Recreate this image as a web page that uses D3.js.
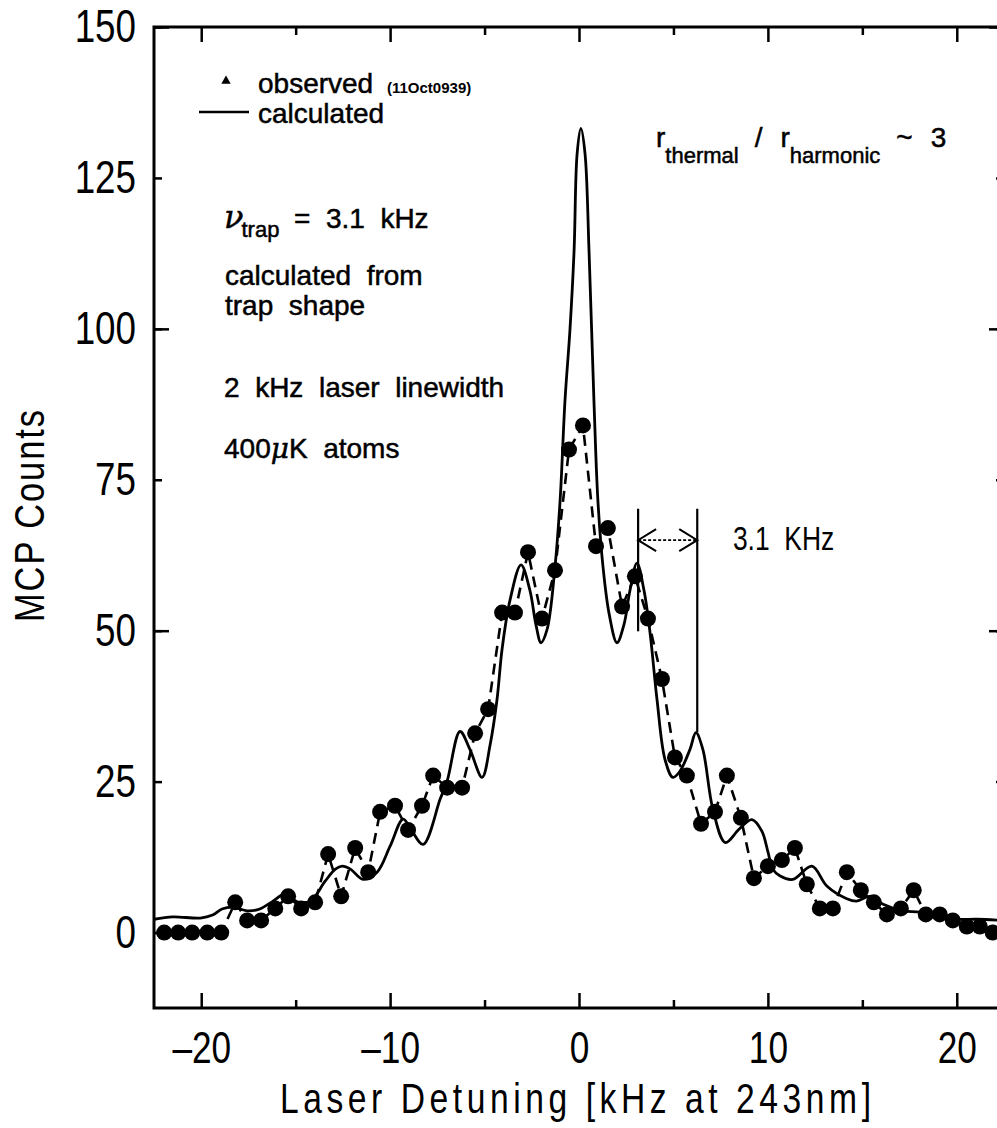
<!DOCTYPE html>
<html>
<head>
<meta charset="utf-8">
<script src="https://cdn.jsdelivr.net/npm/d3@7"></script>
<style>
  body { margin: 0; background: #fff; }
  svg { display: block; }
</style>
</head>
<body>
<div id="chart"></div>
<script>
// observed MCP counts (dots + dashed line)
const obsX = [-21.96, -21.22, -20.48, -19.68, -18.94, -18.2, -17.57, -16.83, -16.08, -15.4,
  -14.71, -13.97, -13.28, -12.59, -11.85, -11.16, -10.53, -9.74, -9.05, -8.31,
  -7.72, -6.98, -6.19, -5.5, -4.81, -4.07, -3.39, -2.7, -1.96, -1.27,
  -0.53, 0.21, 0.9, 1.53, 2.28, 2.96, 3.65, 4.39, 5.08, 5.71,
  6.46, 7.2, 7.83, 8.57, 9.26, 10.0, 10.74, 11.43, 12.06, 12.75,
  13.44, 14.18, 14.92, 15.61, 16.3, 17.04, 17.72, 18.36, 19.1, 19.79,
  20.53, 21.22, 21.9]
const obsY = [0, 0, 0, 0, 0, 5, 2, 2, 4, 6,
  4, 5, 13, 6, 14, 10, 20, 21, 17, 21,
  26, 24, 24, 33, 37, 53, 53, 63, 52, 60,
  80, 84, 64, 67, 54, 59, 52, 42, 29, 26,
  18, 20, 26, 19, 9, 11, 12, 14, 8, 4,
  4, 10, 7, 5, 3, 4, 7, 3, 3, 2,
  1, 1, 0]

// calculated line shape
const calcX = [-22.5, -21.5, -20.05, -19.4, -18.9, -18.3, -17.57, -16.9, -16.2, -15.56,
  -14.92, -14.23, -13.44, -12.9, -12.54, -12.1, -11.43, -10.69, -10.0, -9.31,
  -8.86, -8.25, -7.35, -6.98, -6.3, -5.77, -5.13, -4.7, -4.34, -4.07,
  -3.65, -3.07, -2.6, -2.28, -2.01, -1.69, -1.27, -1.0, -0.74, -0.48,
  -0.26, -0.1, 0.1, 0.32, 0.53, 0.79, 1.0, 1.27, 1.6, 2.01,
  2.38, 2.7, 3.07, 3.44, 3.76, 4.13, 4.55, 4.97, 5.34, 5.87,
  6.19, 6.56, 7.09, 7.75, 8.47, 9.15, 9.68, 10.0, 10.26, 10.63,
  11.32, 12.33, 13.12, 14.18, 14.7, 15.4, 16.1, 17.14, 18.04, 18.94,
  20.0, 21.06, 22.5]
const calcY = [2.2, 2.6, 2.4, 2.9, 3.9, 4.2, 3.6, 3.9, 5.2, 6.4,
  5.1, 5.2, 8.5, 10.5, 11.0, 10.5, 8.8, 10.0, 14.3, 18.8,
  16.9, 14.6, 22.1, 25.1, 33.3, 30.3, 25.7, 31.2, 38.6, 47,
  55.1, 60.9, 56.7, 51, 48, 50.2, 60.6, 71.6, 88.2, 99.8,
  113, 129, 133.2, 129, 113, 88.2, 71.6, 60.6, 52.7, 48,
  51, 56.7, 61.2, 56.7, 49.7, 38.6, 28.7, 25.7, 26.7, 30.3,
  33.1, 30.3, 20.4, 14.9, 17.1, 18.7, 16.8, 13.4, 10.5, 9.4,
  8.8, 11.0, 7.7, 5.6, 5.2, 6.0, 4.7, 3.6, 3.4, 2.8,
  2.2, 2.2, 2.0]

const xMajor = [-20, -10, 0, 10, 20]
const xMinor = [-15, -5, 5, 15]
const yLabels = [0, 25, 50, 75, 100, 125, 150]
const yMajor = [0, 50, 100, 150]

// trap spacing marker (kHz) and its heights
const markX = [3.13, 6.26]
const markTop = 70.2
const markBottom = [49.9, 33.2]
const markArrowY = 65

let width = 997
let height = 1128

// narrow look: Liberation Sans squeezed horizontally
let numFont = '"Liberation Sans", Arial, sans-serif'
let txtFont = '"Liberation Sans", Arial, sans-serif'
let squeeze = 0.8

let x = d3.scaleLinear().domain([-22.5, 22.5]).range([154, 1004])
let y = d3.scaleLinear().domain([-12.5, 150]).range([1008, 27])

let svg = d3.select('#chart')
  .append('svg')
  .attr('width', width)
  .attr('height', height)

svg.append('clipPath')
  .attr('id', 'plot-clip')
  .append('rect')
  .attr('x', x(-22.5))
  .attr('y', y(150))
  .attr('width', x(22.5) - x(-22.5))
  .attr('height', y(-12.5) - y(150))

let fmt = d => (d < 0 ? '\u2013' + Math.abs(d) : '' + d)

// axes
function styleAxis(g) {
  g.select('.domain').remove()
  g.selectAll('.tick line').attr('stroke', '#000').attr('stroke-width', 2.5)
  g.selectAll('.tick text').attr('fill', '#000')
}

let xLab = svg.append('g')
  .attr('transform', `translate(0,${y(-12.5)})`)
  .call(d3.axisBottom(x).tickValues(xMajor).tickSizeInner(-15).tickSizeOuter(0).tickPadding(24).tickFormat(fmt))
  .call(styleAxis)
  .attr('font-family', numFont)
  .attr('font-size', 44)
xLab.selectAll('.tick text')
  .attr('transform', `scale(${squeeze},1)`)

svg.append('g')
  .attr('transform', `translate(0,${y(-12.5)})`)
  .call(d3.axisBottom(x).tickValues(xMinor).tickSizeInner(-8).tickSizeOuter(0).tickFormat(''))
  .call(styleAxis)

svg.append('g')
  .attr('transform', `translate(0,${y(150)})`)
  .call(d3.axisTop(x).tickValues(xMajor).tickSizeInner(-15).tickSizeOuter(0).tickFormat(''))
  .call(styleAxis)

svg.append('g')
  .attr('transform', `translate(0,${y(150)})`)
  .call(d3.axisTop(x).tickValues(xMinor).tickSizeInner(-8).tickSizeOuter(0).tickFormat(''))
  .call(styleAxis)

let yLab = svg.append('g')
  .attr('transform', `translate(${x(-22.5)},0)`)
  .call(d3.axisLeft(y).tickValues(yLabels).tickSizeInner(-8).tickSizeOuter(0).tickPadding(18).tickFormat(fmt))
  .call(styleAxis)
  .attr('font-family', numFont)
  .attr('font-size', 46)
yLab.selectAll('.tick text')
  .attr('transform', `scale(${squeeze},1)`)
  .attr('x', -18 / squeeze)

svg.append('g')
  .attr('transform', `translate(${x(-22.5)},0)`)
  .call(d3.axisLeft(y).tickValues(yMajor).tickSizeInner(-15).tickSizeOuter(0).tickFormat(''))
  .call(styleAxis)

svg.append('g')
  .attr('transform', `translate(${x(22.5)},0)`)
  .call(d3.axisRight(y).tickValues(yLabels).tickSizeInner(-8).tickSizeOuter(0).tickFormat(''))
  .call(styleAxis)

svg.append('g')
  .attr('transform', `translate(${x(22.5)},0)`)
  .call(d3.axisRight(y).tickValues(yMajor).tickSizeInner(-15).tickSizeOuter(0).tickFormat(''))
  .call(styleAxis)

// frame
svg.append('rect')
  .attr('x', x(-22.5))
  .attr('y', y(150))
  .attr('width', x(22.5) - x(-22.5))
  .attr('height', y(-12.5) - y(150))
  .attr('fill', 'none')
  .attr('stroke', '#000')
  .attr('stroke-width', 3)

// axis titles
svg.append('text')
  .text('Laser Detuning [kHz at 243nm]')
  .attr('transform', `translate(280,1113) scale(${squeeze},1)`)
  .attr('textLength', 591 / squeeze)
  .attr('lengthAdjust', 'spacing')
  .attr('font-family', numFont)
  .attr('font-size', 42)

svg.append('text')
  .text('MCP Counts')
  .attr('transform', `translate(44,622) rotate(-90) scale(${squeeze},1)`)
  .attr('textLength', 212 / squeeze)
  .attr('lengthAdjust', 'spacing')
  .attr('font-family', numFont)
  .attr('font-size', 43)

// data layers
let plot = svg.append('g').attr('clip-path', 'url(#plot-clip)')

let obs = obsX.map((d, i) => [d, obsY[i]])
let calc = calcX.map((d, i) => [d, calcY[i]])

let line = d3.line()
  .x(d => x(d[0]))
  .y(d => y(d[1]))

plot.append('path')
  .datum(obs)
  .attr('d', line)
  .attr('fill', 'none')
  .attr('stroke', '#000')
  .attr('stroke-width', 2.6)
  .attr('stroke-dasharray', '11,7')

plot.append('path')
  .datum(calc)
  .attr('d', line.curve(d3.curveCatmullRom.alpha(0.5)))
  .attr('fill', 'none')
  .attr('stroke', '#000')
  .attr('stroke-width', 2.8)
  .attr('stroke-linejoin', 'round')

plot.selectAll('.obs')
  .data(obs)
  .enter()
  .append('circle')
  .attr('class', 'obs')
  .attr('cx', d => x(d[0]))
  .attr('cy', d => y(d[1]))
  .attr('r', 8)
  .attr('fill', '#000')

// 3.1 kHz spacing marker
markX.forEach((m, i) => {
  svg.append('line')
    .attr('x1', x(m)).attr('x2', x(m))
    .attr('y1', y(markTop)).attr('y2', y(markBottom[i]))
    .attr('stroke', '#000')
    .attr('stroke-width', 2.2)
})

let ay = y(markArrowY)
let ax0 = x(markX[0])
let ax1 = x(markX[1])
svg.append('line')
  .attr('x1', ax0).attr('x2', ax1)
  .attr('y1', ay).attr('y2', ay)
  .attr('stroke', '#000')
  .attr('stroke-width', 1.6)
  .attr('stroke-dasharray', '3,2')
svg.append('path')
  .attr('d', `M${ax0 + 18},${ay - 11}L${ax0},${ay}L${ax0 + 18},${ay + 11}M${ax1 - 18},${ay - 11}L${ax1},${ay}L${ax1 - 18},${ay + 11}`)
  .attr('fill', 'none')
  .attr('stroke', '#000')
  .attr('stroke-width', 2)

svg.append('text')
  .text('3.1\u00a0 KHz')
  .attr('transform', `translate(${x(8.15)},${y(63.4)}) scale(${squeeze},1)`)
  .attr('font-family', numFont)
  .attr('font-size', 33)

// legend
svg.append('path')
  .attr('d', d3.symbol(d3.symbolTriangle).size(38)())
  .attr('transform', 'translate(226,81)')
  .attr('fill', '#000')

svg.append('line')
  .attr('x1', 199).attr('x2', 249)
  .attr('y1', 112).attr('y2', 112)
  .attr('stroke', '#000')
  .attr('stroke-width', 2.4)

let notes = svg.append('g')
  .attr('font-family', txtFont)
  .attr('font-size', 28)
  .attr('fill', '#000')
  .attr('stroke', '#000')
  .attr('stroke-width', 0.5)

notes.append('text').attr('x', 258).attr('y', 93).text('observed')
notes.append('text').attr('x', 387).attr('y', 93)
  .attr('font-size', 15).attr('font-weight', 'bold').attr('stroke-width', 0)
  .text('(11Oct0939)')
notes.append('text').attr('x', 258).attr('y', 123).text('calculated')

let nu = notes.append('text').attr('x', 224).attr('y', 228)
nu.append('tspan').attr('font-family', '"DejaVu Serif", serif').attr('font-style', 'italic').attr('font-size', 32).text('\u03bd')
nu.append('tspan').attr('font-size', 22).attr('dy', 9).attr('dx', -2).text('trap')
notes.append('text').attr('x', 294).attr('y', 228).text('=\u00a0 3.1\u00a0 kHz')

notes.append('text').attr('x', 225).attr('y', 285).text('calculated\u00a0 from')
notes.append('text').attr('x', 225).attr('y', 315).text('trap\u00a0 shape')
notes.append('text').attr('x', 224).attr('y', 397).text('2\u00a0 kHz\u00a0 laser\u00a0 linewidth')
let atoms = notes.append('text').attr('x', 224).attr('y', 458)
atoms.append('tspan').text('400')
atoms.append('tspan').attr('font-family', '"DejaVu Serif", serif').attr('font-style', 'italic').text('\u03bc')
atoms.append('tspan').text('K\u00a0 atoms')

let ratio = notes.append('text').attr('x', 656).attr('y', 147)
ratio.append('tspan').text('r')
ratio.append('tspan').attr('font-size', 22).attr('dy', 16).text('thermal')
ratio.append('tspan').attr('dy', -16).attr('dx', 16).text('/')
ratio.append('tspan').attr('dx', 18).text('r')
ratio.append('tspan').attr('font-size', 22).attr('dy', 16).text('harmonic')
ratio.append('tspan').attr('dy', -16).attr('dx', 16).text('~')
ratio.append('tspan').attr('dx', 18).text('3')
</script>
</body>
</html>
